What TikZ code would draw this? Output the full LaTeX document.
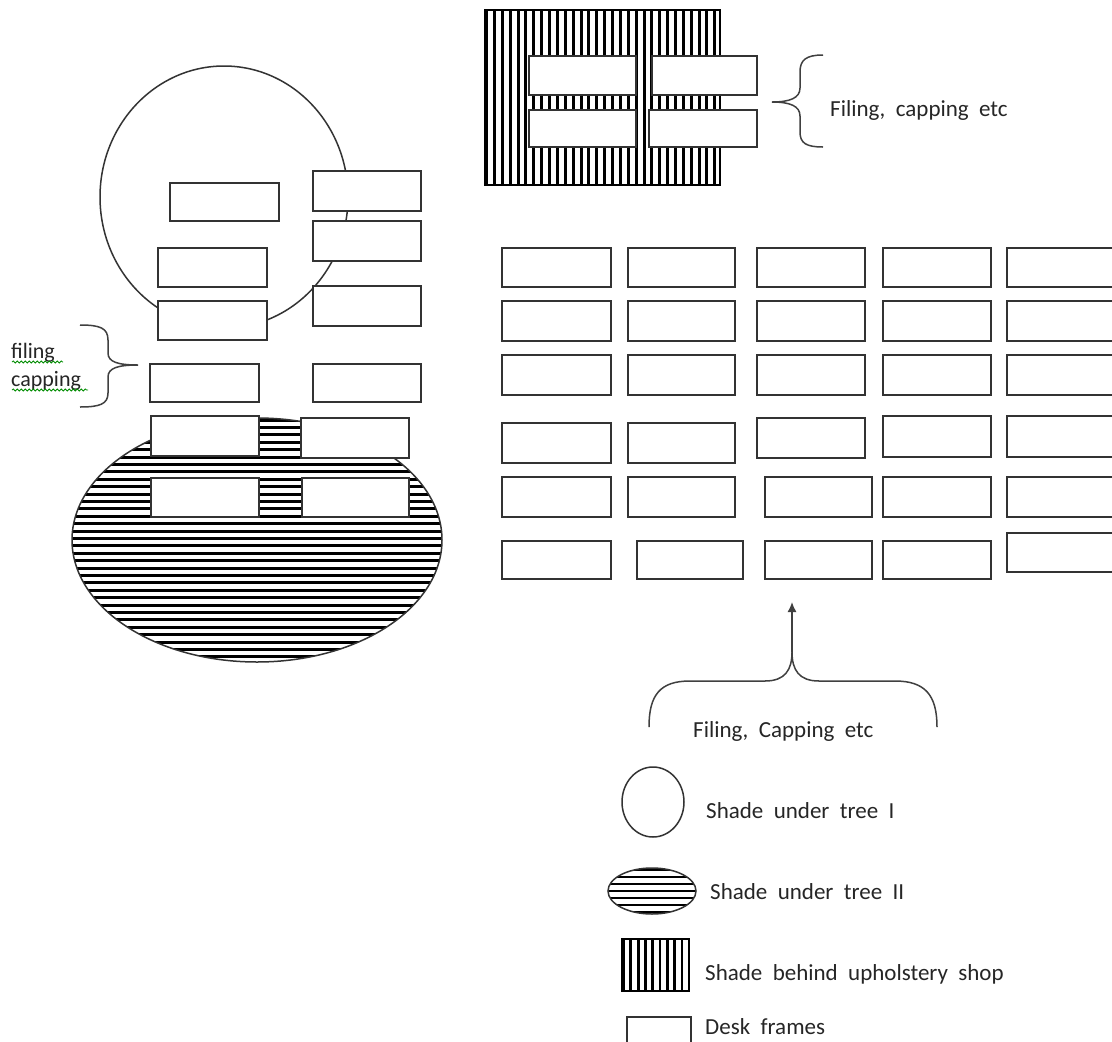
\documentclass[tikz,border=0pt]{standalone}
\usepackage{fontspec}
\setmainfont{Carlito}[WordSpace=2]
\usetikzlibrary{arrows.meta,decorations.pathmorphing}
\newcommand\deskbox[4]{\draw[desk] (#1,#2) rectangle (#3,#4);}
\begin{document}
\begin{tikzpicture}[x=1pt,y=-1pt,
  desk/.style={draw=black!80,line width=2pt,fill=white},
  outl/.style={draw=black!80,line width=1.5pt},
  hatch/.style={draw=black,line width=3pt},
  brace/.style={draw=black!75,line width=1.5pt},
  wavy/.style={decorate,decoration={snake,segment length=4pt,amplitude=1pt},draw=green!55!black,line width=0.8pt},
  lbl/.style={inner sep=0pt,anchor=base west,text=black!85,font=\fontsize{23}{27}\selectfont},
  slbl/.style={inner sep=0pt,anchor=base west,text=black!85,font=\fontsize{22}{26}\selectfont}]
\useasboundingbox (0,0) rectangle (1112,1042);
\clip (0,0) rectangle (1112,1042);
\fill[white] (0,0) rectangle (1112,1042);

% ---------- shade behind upholstery shop (top) ----------
\begin{scope}
  \clip (485,10) rectangle (720,185);
  \foreach \i in {0,...,30} \draw[hatch] ({486.6+\i*7.87},10) -- ({486.6+\i*7.87},185);
\end{scope}
\draw[black,line width=2pt] (485,10) rectangle (720,185);
\deskbox{529}{56}{636}{95}
\deskbox{652}{56}{757}{95}
\deskbox{529}{110}{636}{147}
\deskbox{649}{110}{757}{147}

% brace + label (top right)
\draw[brace] (823,55) .. controls (806,55) and (800,60) .. (800,72) -- (800,88)
  .. controls (800,98) and (790,102) .. (772,102)
  .. controls (790,102) and (800,106) .. (800,116) -- (800,132)
  .. controls (800,143) and (806,147) .. (823,147);
\node[lbl] (ltop) at (830,116) {Filing, capping etc};

% ---------- shade under tree I ----------
\draw[outl] (224,197) ellipse [x radius=124, y radius=131];

% ---------- shade under tree II ----------
\begin{scope}
  \clip (257,540) ellipse [x radius=185, y radius=122];
  \foreach \i in {0,...,33} \draw[hatch] (70,{420+\i*7.4}) -- (445,{420+\i*7.4});
\end{scope}
\draw[outl] (257,540) ellipse [x radius=185, y radius=122];

% left desks
\deskbox{170}{183}{279}{221}
\deskbox{313}{171}{421}{211}
\deskbox{313}{221}{421}{261}
\deskbox{158}{248}{267}{287}
\deskbox{313}{286}{421}{326}
\deskbox{158}{301}{267}{340}
\deskbox{150}{364}{259}{402}
\deskbox{313}{364}{421}{402}
\deskbox{151}{416}{259}{456}
\deskbox{301}{418}{409}{458}
\deskbox{151}{478}{259}{517}
\deskbox{302}{478}{409}{517}

% left brace + label
\draw[brace] (80,325) .. controls (100,325) and (108,328) .. (108,340) -- (108,353)
  .. controls (108,362) and (118,365) .. (138,365)
  .. controls (118,365) and (108,368) .. (108,377) -- (108,393)
  .. controls (108,404) and (100,407) .. (80,407);
\node[slbl] (lfil) at (11,358) {filing};
\node[slbl] (lcap) at (11,386) {capping};
\draw[wavy] (12,362) -- (63,362);
\draw[wavy] (12,390) -- (88,390);

% ---------- desk grid ----------
\foreach \ya/\yb in {248/287,301/341,355/395}{
  \deskbox{502}{\ya}{611}{\yb}
  \deskbox{628}{\ya}{735}{\yb}
  \deskbox{757}{\ya}{865}{\yb}
  \deskbox{883}{\ya}{991}{\yb}
  \deskbox{1007}{\ya}{1116}{\yb}
}
% row 4
\deskbox{502}{423}{611}{463}
\deskbox{628}{423}{735}{463}
\deskbox{757}{418}{865}{458}
\deskbox{883}{416}{991}{457}
\deskbox{1007}{416}{1116}{457}
% row 5
\deskbox{502}{477}{611}{517}
\deskbox{628}{477}{735}{517}
\deskbox{765}{477}{872}{517}
\deskbox{883}{477}{991}{517}
\deskbox{1007}{477}{1116}{517}
% row 6
\deskbox{502}{541}{611}{579}
\deskbox{637}{541}{743}{579}
\deskbox{765}{541}{872}{579}
\deskbox{883}{541}{991}{579}
\deskbox{1007}{533}{1116}{572}

% bottom brace + arrow
\coordinate (bpeak) at (792,652);
\coordinate (atip) at (792,602);
\draw[brace] (649,727) .. controls (649,695) and (660,681) .. (690,681) -- (765,681)
  .. controls (785,681) and (792,670) .. (bpeak)
  .. controls (792,670) and (799,681) .. (819,681) -- (895,681)
  .. controls (925,681) and (937,695) .. (937,727);
\draw[brace,-{Latex[length=10pt,width=9pt]}] (bpeak) -- (atip);
\node[lbl] (lbot) at (693,737) {Filing, Capping etc};

% ---------- legend ----------
\draw[outl] (653,802) ellipse [x radius=31, y radius=35];
\node[lbl] (leg1) at (706,818) {Shade under tree I};

\begin{scope}
  \clip (652,891) ellipse [x radius=44, y radius=23];
  \foreach \i in {0,...,6} \draw[draw=black,line width=2.5pt] (605,{870+\i*7}) -- (700,{870+\i*7});
\end{scope}
\draw[outl] (652,891) ellipse [x radius=44, y radius=23];
\node[lbl] (leg2) at (710,899) {Shade under tree II};

\begin{scope}
  \clip (622,939) rectangle (689,991);
  \foreach \i in {0,...,9} \draw[draw=black,line width=2.8pt] ({623.5+\i*7.3},939) -- ({623.5+\i*7.3},991);
\end{scope}
\draw[black,line width=1.5pt] (622,939) rectangle (689,991);
\node[lbl] (leg3) at (705,980) {Shade behind upholstery shop};

\deskbox{627}{1017}{691}{1050}
\node[lbl] (leg4) at (705,1034) {Desk frames};
\end{tikzpicture}
\end{document}
